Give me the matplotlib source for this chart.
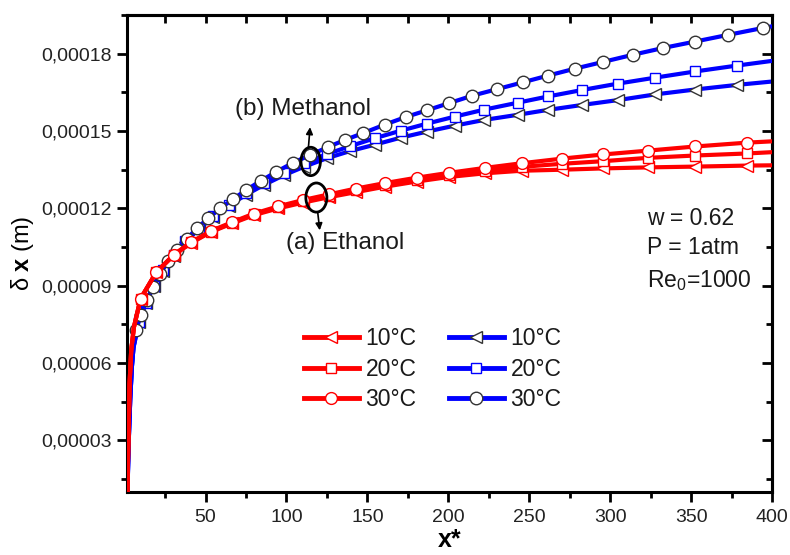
import matplotlib
matplotlib.use('Agg')
import matplotlib.pyplot as plt
from matplotlib.lines import Line2D
from matplotlib.patches import Ellipse
from matplotlib.ticker import MultipleLocator, FuncFormatter, NullFormatter

plt.rcParams['font.family'] = ['Liberation Sans', 'DejaVu Sans']
plt.rcParams['mathtext.fontset'] = 'custom'
plt.rcParams['mathtext.rm'] = 'Liberation Sans'
plt.rcParams['mathtext.it'] = 'Liberation Sans:italic'
plt.rcParams['mathtext.bf'] = 'Liberation Sans:bold'

# ---------------- data (delta in units of 1e-5 m) ----------------
UNIT = 1e-5
X_END = 400

# Methanol (blue)
blue_lead_x = [1.6, 2.1, 2.7, 3.5, 4.5, 5.5]
blue_lead_y = [0.0, 1.8, 3.2, 4.6, 5.84, 6.6]

m30_x = [7.2, 10.2, 13.6, 17.6, 22, 26.9, 32.4, 38.3, 44.8, 51.7, 59.1, 67, 75.3,
         84.5, 93.8, 104.1, 114.4, 125.7, 136, 147.4, 160.8, 173.6, 186.6, 200.4,
         214.8, 229.9, 246.1, 261.6, 278.3, 295.6, 314.2, 332.7, 352.5, 372.9, 394.6]
m30_y = [7.30, 7.87, 8.44, 8.97, 9.47, 9.94, 10.39, 10.81, 11.23, 11.62, 12.00, 12.36,
         12.72, 13.08, 13.42, 13.77, 14.06, 14.38, 14.65, 14.92, 15.25, 15.54, 15.80,
         16.08, 16.37, 16.62, 16.89, 17.15, 17.42, 17.68, 17.96, 18.22, 18.47, 18.73, 19.00]
m30_end = 19.06

m_x = [8.9, 13, 18, 23.7, 30.3, 37.6, 45.7, 54.6, 64.3, 74.8, 86.1, 98.2, 111.1, 124.8,
       139.2, 154.6, 170.5, 187, 204.1, 222.2, 243, 261.6, 282.6, 304.9, 327.8, 352.5, 378.5]
m20_y = [7.6, 8.33, 9.0, 9.6, 10.18, 10.72, 11.22, 11.70, 12.15, 12.58, 12.99, 13.38,
         13.75, 14.10, 14.41, 14.72, 15.01, 15.29, 15.56, 15.83, 16.10, 16.34, 16.59,
         16.84, 17.07, 17.31, 17.54]
m20_end = 17.72
m10_y = [7.6, 8.32, 8.99, 9.59, 10.16, 10.70, 11.19, 11.66, 12.10, 12.52, 12.91, 13.28,
         13.62, 13.94, 14.22, 14.47, 14.74, 14.98, 15.21, 15.43, 15.63, 15.82, 16.01,
         16.20, 16.42, 16.61, 16.79]
m10_end = 16.92

# Ethanol (red)
red_lead_x = [1.6, 2.0, 2.5, 3.1, 4.1, 5.8]
red_lead_y = [0.0, 1.9, 3.3, 5.2, 6.5, 7.4]

e_x = [9.9, 19.6, 30.5, 41.2, 53.2, 66.6, 80, 95, 110, 126, 143, 160.8, 180.4, 200.6,
       222.6, 245.3, 270.3, 295.6, 323.4, 352.5, 384.7]
e30_y = [8.50, 9.53, 10.21, 10.69, 11.12, 11.47, 11.80, 12.08, 12.32, 12.54, 12.77, 12.98,
         13.19, 13.38, 13.57, 13.75, 13.93, 14.09, 14.24, 14.40, 14.55]
e30_end = 14.60
e20_y = [8.50, 9.52, 10.20, 10.68, 11.10, 11.44, 11.77, 12.04, 12.27, 12.49, 12.70, 12.91,
         13.11, 13.30, 13.46, 13.61, 13.73, 13.83, 13.96, 14.05, 14.13]
e20_end = 14.18
e10_y = [8.50, 9.52, 10.19, 10.66, 11.08, 11.42, 11.74, 12.00, 12.22, 12.43, 12.63, 12.84,
         13.04, 13.22, 13.36, 13.46, 13.50, 13.55, 13.59, 13.62, 13.66]
e10_end = 13.67

labels = ['10°C', '20°C', '30°C']

RED = '#FF0000'
BLUE = '#0000FF'
GREY = '#333333'

fig = plt.figure(figsize=(7.9, 5.55), dpi=100)
ax = fig.add_axes([127 / 790, 1 - 492 / 555, 645 / 790, 477 / 555])


def draw(lead_x, lead_y, mx, my, end_y, color, marker, ms, mec, z):
    xs = lead_x + mx + [X_END]
    ys = [v * UNIT for v in lead_y + my + [end_y]]
    ax.plot(xs, ys, color=color, lw=3.0, zorder=z, solid_joinstyle='round')
    ax.plot(mx, [v * UNIT for v in my], ls='none', marker=marker, ms=ms,
            mfc='white', mec=mec, mew=1.0, zorder=z + 0.5)
    return Line2D([], [], color=color, lw=3.5, marker=marker, ms=ms,
                  mfc='white', mec=mec, mew=1.0)


hb10 = draw(blue_lead_x, blue_lead_y, m_x, m10_y, m10_end, BLUE, '<', 9, GREY, 2)
hb20 = draw(blue_lead_x, blue_lead_y, m_x, m20_y, m20_end, BLUE, 's', 7, BLUE, 3)
hb30 = draw(blue_lead_x, blue_lead_y, m30_x, m30_y, m30_end, BLUE, 'o', 9, GREY, 4)
hr10 = draw(red_lead_x, red_lead_y, e_x, e10_y, e10_end, RED, '<', 8.5, RED, 5)
hr20 = draw(red_lead_x, red_lead_y, e_x, e20_y, e20_end, RED, 's', 6.5, RED, 6)
hr30 = draw(red_lead_x, red_lead_y, e_x, e30_y, e30_end, RED, 'o', 8.5, RED, 7)

ax.set_xlim(1.5, 400)
ax.set_ylim(1.0e-5, 1.95e-4)

ax.xaxis.set_major_locator(MultipleLocator(50))
ax.xaxis.set_minor_locator(MultipleLocator(25))
ax.yaxis.set_major_locator(MultipleLocator(3e-5))
ax.yaxis.set_minor_locator(MultipleLocator(1.5e-5))
ax.yaxis.set_major_formatter(FuncFormatter(lambda v, p: f"{v:.5f}".replace('.', ',')))
ax.xaxis.set_major_formatter(FuncFormatter(lambda v, p: f"{v:.0f}"))

ax.tick_params(which='major', direction='out', length=7, width=2, labelsize=14,
               colors='black', labelcolor='#222222')
ax.tick_params(which='minor', direction='out', length=4, width=2)
ax.tick_params(axis='x', pad=5)
ax.tick_params(axis='y', pad=4)
for s in ax.spines.values():
    s.set_linewidth(2.2)

secx = ax.secondary_xaxis('top')
secx.xaxis.set_major_locator(MultipleLocator(25))
secx.xaxis.set_major_formatter(NullFormatter())
secx.tick_params(direction='in', length=6, width=2)
secx.spines['top'].set_linewidth(2.2)
secy = ax.secondary_yaxis('right')
secy.yaxis.set_major_locator(MultipleLocator(3e-5))
secy.yaxis.set_minor_locator(MultipleLocator(1.5e-5))
secy.yaxis.set_major_formatter(NullFormatter())
secy.tick_params(which='major', direction='in', length=7, width=2)
secy.tick_params(which='minor', direction='in', length=4, width=2)
secy.spines['right'].set_linewidth(2.2)

ax.set_xlabel('x*', fontsize=18, fontweight='bold', labelpad=2)
ax.set_ylabel(r'δ $\mathbf{x}$ (m)', fontsize=17, labelpad=4)

# annotations
ax.text(110, 1.587e-4, '(b) Methanol', fontsize=17.5, ha='center', va='center', color='#1a1a1a')
ax.text(136, 1.064e-4, '(a) Ethanol', fontsize=17.5, ha='center', va='center', color='#1a1a1a')
ax.add_patch(Ellipse((115, 1.382e-4), 12, 1.10e-5, fill=False, ec='black', lw=2, zorder=20))
ax.add_patch(Ellipse((118.5, 1.242e-4), 13, 1.13e-5, fill=False, ec='black', lw=2, zorder=20))
ax.annotate('', xy=(114.6, 1.515e-4), xytext=(113.6, 1.437e-4),
            arrowprops=dict(arrowstyle='-|>', color='black', lw=1.2, mutation_scale=10,
                            shrinkA=0, shrinkB=0), zorder=20)
ax.annotate('', xy=(120.6, 1.115e-4), xytext=(119.3, 1.186e-4),
            arrowprops=dict(arrowstyle='-|>', color='black', lw=1.2, mutation_scale=10,
                            shrinkA=0, shrinkB=0), zorder=20)

ax.text(322.8, 1.161e-4, 'w = 0.62', fontsize=16.5, ha='left', va='center', color='#1a1a1a')
ax.text(322.8, 1.048e-4, 'P = 1atm', fontsize=16.5, ha='left', va='center', color='#1a1a1a')
ax.text(322.8, 0.922e-4, 'Re$_0$=1000', fontsize=16.5, ha='left', va='center', color='#1a1a1a')

handles = [hr10, hr20, hr30, hb10, hb20, hb30]
leg = ax.legend(handles, labels + labels, ncol=2, loc='center',
                bbox_to_anchor=(0.4736, 0.2572), frameon=False, fontsize=16.5,
                handlelength=2.4, handletextpad=0.3, columnspacing=1.4,
                labelspacing=0.33, borderpad=0, borderaxespad=0)
for t in leg.get_texts():
    t.set_color('#1a1a1a')

fig.savefig('out.png', dpi=100)
